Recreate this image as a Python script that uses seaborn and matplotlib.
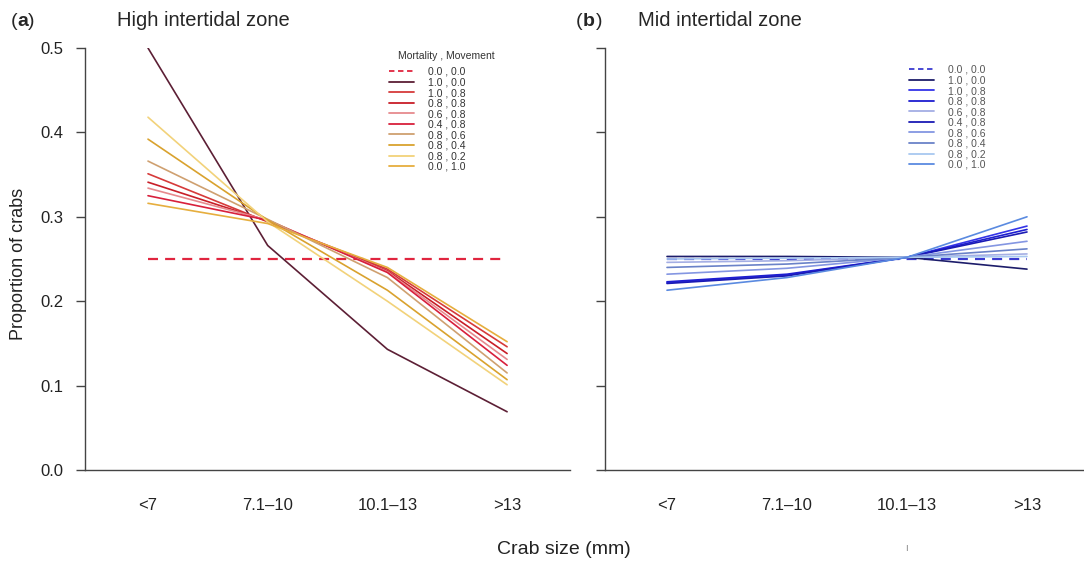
import matplotlib
matplotlib.use("Agg")
import matplotlib.pyplot as plt
import seaborn as sns
import pandas as pd
from matplotlib.lines import Line2D

# ---------------- data ----------------
sizes = ["<7", "7.1\u201310", "10.1\u201313", ">13"]
scenarios = ["0.0 , 0.0", "1.0 , 0.0", "1.0 , 0.8", "0.8 , 0.8", "0.6 , 0.8",
             "0.4 , 0.8", "0.8 , 0.6", "0.8 , 0.4", "0.8 , 0.2", "0.0 , 1.0"]

high_00_00 = [0.250, 0.250, 0.250, 0.250]
high_10_00 = [0.500, 0.266, 0.143, 0.069]
high_10_08 = [0.351, 0.294, 0.238, 0.146]
high_08_08 = [0.341, 0.295, 0.236, 0.138]
high_06_08 = [0.334, 0.296, 0.235, 0.131]
high_04_08 = [0.325, 0.296, 0.234, 0.124]
high_08_06 = [0.366, 0.297, 0.228, 0.115]
high_08_04 = [0.392, 0.296, 0.213, 0.107]
high_08_02 = [0.418, 0.294, 0.200, 0.101]
high_00_10 = [0.316, 0.292, 0.240, 0.152]

mid_00_00 = [0.250, 0.250, 0.250, 0.250]
mid_10_00 = [0.253, 0.253, 0.252, 0.238]
mid_10_08 = [0.222, 0.231, 0.252, 0.289]
mid_08_08 = [0.223, 0.232, 0.252, 0.285]
mid_06_08 = [0.246, 0.248, 0.252, 0.256]
mid_04_08 = [0.221, 0.230, 0.252, 0.282]
mid_08_06 = [0.232, 0.239, 0.252, 0.271]
mid_08_04 = [0.240, 0.244, 0.252, 0.262]
mid_08_02 = [0.250, 0.251, 0.252, 0.253]
mid_00_10 = [0.213, 0.228, 0.252, 0.300]

high_series = [high_00_00, high_10_00, high_10_08, high_08_08, high_06_08,
               high_04_08, high_08_06, high_08_04, high_08_02, high_00_10]
mid_series = [mid_00_00, mid_10_00, mid_10_08, mid_08_08, mid_06_08,
              mid_04_08, mid_08_06, mid_08_04, mid_08_02, mid_00_10]

red_colors = ["#e0253f", "#5c1f35", "#d63a3a", "#c81e28", "#e68a8e",
              "#d8203c", "#cfa070", "#d9a22e", "#f2d27a", "#e6ae3e"]
blue_colors = ["#3a3ad0", "#1c1c6a", "#3434e8", "#1e1ed0", "#a4aee4",
               "#1a1ab4", "#8496e2", "#6a82c8", "#a8c8f0", "#5a8ae0"]

yticks = [0.0, 0.1, 0.2, 0.3, 0.4, 0.5]


def make_df(series):
    rows = []
    for name, vals in zip(scenarios, series):
        for s, v in zip(sizes, vals):
            rows.append({"size": s, "prop": v, "scenario": name})
    return pd.DataFrame(rows)


df_high = make_df(high_series)
df_mid = make_df(mid_series)

# ---------------- style ----------------
sns.set_theme(style="ticks")
plt.rcParams["font.family"] = ["Liberation Sans", "DejaVu Sans"]

W, H = 1084, 564
fig = plt.figure(figsize=(W / 100, H / 100), dpi=100)


def px_axes(x0, x1, ytop, ybot):
    return fig.add_axes([x0 / W, 1 - ybot / H, (x1 - x0) / W, (ybot - ytop) / H])


axL = px_axes(85, 570, 48, 470)
axR = px_axes(605, 1084, 48, 470)

dash_map = {s: "" for s in scenarios}
dash_map[scenarios[0]] = (4.5, 3.2)

for ax, df, cols in [(axL, df_high, red_colors), (axR, df_mid, blue_colors)]:
    pal = dict(zip(scenarios, cols))
    sns.lineplot(data=df, x="size", y="prop", hue="scenario", style="scenario",
                 hue_order=scenarios, style_order=scenarios, palette=pal,
                 dashes=dash_map, sort=False, linewidth=1.2, legend=False, ax=ax)
    # make the reference dashed line a bit heavier
    ax.get_lines()[0].set_linewidth(1.6)
    ax.set_ylim(0, 0.5)
    ax.set_yticks(yticks)
    ax.set_xlabel("")
    ax.set_ylabel("")
    for sp in ["top", "right"]:
        ax.spines[sp].set_visible(False)
    for sp in ["left", "bottom"]:
        ax.spines[sp].set_color("#444444")
        ax.spines[sp].set_linewidth(1.0)
    ax.tick_params(axis="x", length=0, pad=20, labelsize=12, colors="#222222")
    ax.tick_params(axis="y", length=6.5, width=1.0, color="#444444",
                   pad=9, labelsize=12, labelcolor="#222222")
    ax.set_facecolor("white")

# x limits so that category centres line up with the reference
axL.set_xlim((85 - 148) / 119.7, (570 - 148) / 119.7)
axR.set_xlim((605 - 667) / 120.0, (1084 - 667) / 120.0)
axL.set_yticklabels(["0.0", "0.1", "0.2", "0.3", "0.4", "0.5"])
axR.set_yticklabels([""] * len(yticks))

# ---------------- legends ----------------
def handles(cols):
    hs = []
    for i, c in enumerate(cols):
        ls = (0, (3.0, 2.0)) if i == 0 else "-"
        hs.append(Line2D([0], [0], color=c, lw=1.3, linestyle=ls))
    return hs

fig.text(398 / W, 1 - 56 / H, "Mortality , Movement", fontsize=7.5,
         va="center", ha="left", color="#333333")
legL = fig.legend(handles(red_colors), scenarios, loc="upper left",
                  bbox_to_anchor=(389 / W, 1 - 67 / H), frameon=False,
                  fontsize=7.5, handlelength=2.4, handletextpad=1.3,
                  labelspacing=0.05, borderpad=0, borderaxespad=0)
for t in legL.get_texts():
    t.set_color("#333333")

legR = fig.legend(handles(blue_colors), scenarios, loc="upper left",
                  bbox_to_anchor=(909 / W, 1 - 65 / H), frameon=False,
                  fontsize=7.5, handlelength=2.4, handletextpad=1.3,
                  labelspacing=0.05, borderpad=0, borderaxespad=0)
for t in legR.get_texts():
    t.set_color("#555555")

# ---------------- texts ----------------
fig.text(11 / W, 1 - 22 / H, "(", fontsize=14, va="center", ha="left")
fig.text(17 / W, 1 - 22 / H, "a", fontsize=14, va="center", ha="left", weight="bold")
fig.text(28 / W, 1 - 22 / H, ")", fontsize=14, va="center", ha="left")
fig.text(117 / W, 1 - 21 / H, "High intertidal zone", fontsize=14.5, va="center", ha="left")

fig.text(576 / W, 1 - 22 / H, "(", fontsize=14, va="center", ha="left")
fig.text(583 / W, 1 - 22 / H, "b", fontsize=14, va="center", ha="left", weight="bold")
fig.text(596 / W, 1 - 22 / H, ")", fontsize=14, va="center", ha="left")
fig.text(638 / W, 1 - 21 / H, "Mid intertidal zone", fontsize=14.5, va="center", ha="left")

fig.text(19 / W, 1 - 264 / H, "Proportion of crabs", fontsize=13, rotation=90,
         va="center", ha="center", color="#222222")
fig.text(564 / W, 1 - 549 / H, "Crab size (mm)", fontsize=14, va="center",
         ha="center", color="#222222")
fig.text(907 / W, 1 - 548 / H, "\u0131", fontsize=7, va="center", ha="center",
         color="#888888")

fig.savefig("out.png", dpi=100, facecolor="white")
